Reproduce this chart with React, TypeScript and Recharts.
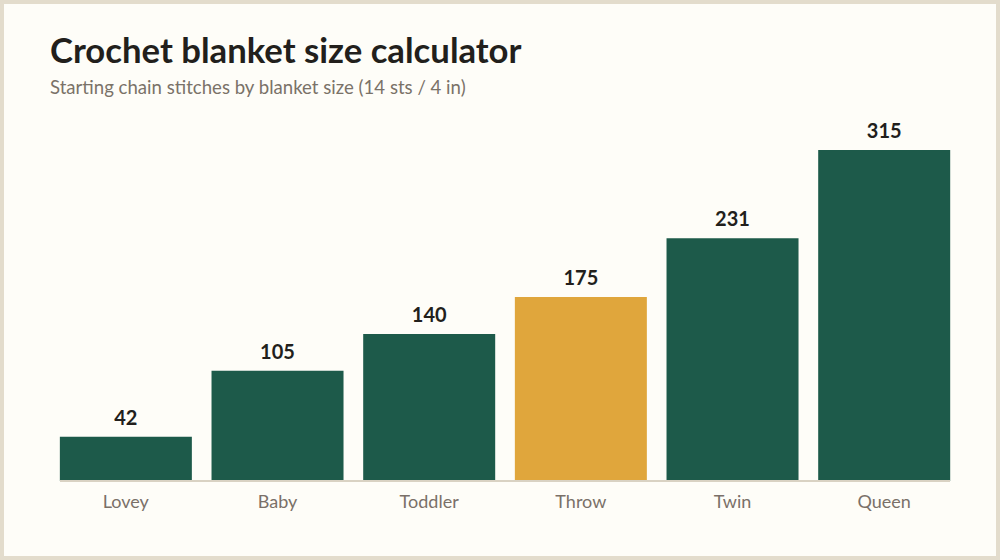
import { BarChart, Bar, XAxis, YAxis, Cell, LabelList } from 'recharts';

// Starting chain count per blanket size at a gauge of 14 sts / 4 in
const sizes = ['Lovey', 'Baby', 'Toddler', 'Throw', 'Twin', 'Queen'];
const chainStitches = [42, 105, 140, 175, 231, 315];
const highlightSize = 'Throw';

const data = sizes.map((size, i) => ({ size, stitches: chainStitches[i] }));

const GREEN = '#1D5A4A';
const GOLD = '#E0A63C';
const FONT = 'Lato, "Noto Sans", sans-serif';

const App = () => {
  return (
    <div
      style={{
        position: 'relative',
        width: 1000,
        height: 560,
        boxSizing: 'border-box',
        border: '4px solid #E3DCCC',
        background: '#FEFDF8',
        fontFamily: FONT,
        overflow: 'hidden',
      }}
    >
      <style>{'body { margin: 0; }'}</style>
      <div
        style={{
          position: 'absolute',
          left: 46,
          top: 29,
          fontSize: 34.7,
          lineHeight: 1,
          fontWeight: 700,
          color: '#221F1C',
        }}
      >
        Crochet blanket size calculator
      </div>
      <div
        style={{
          position: 'absolute',
          left: 46,
          top: 74,
          fontSize: 18.6,
          lineHeight: 1,
          color: '#7A7268',
        }}
      >
        Starting chain stitches by blanket size (14 sts / 4 in)
      </div>
      <div style={{ position: 'absolute', left: -4, top: -4 }}>
        <BarChart
          width={1000}
          height={560}
          data={data}
          margin={{ top: 150, right: 50, bottom: 49, left: 60 }}
          barCategoryGap="6.5%"
        >
          {/* negative padding lets the outer bars sit flush with the ends of the baseline */}
          <XAxis
            dataKey="size"
            height={30}
            padding={{ left: -10, right: -10 }}
            tickLine={false}
            tickMargin={8}
            axisLine={{ stroke: '#D9D2C3', strokeWidth: 2 }}
            tick={{ fill: '#7A7068', fontSize: 18, fontFamily: FONT }}
            interval={0}
          />
          <YAxis hide domain={[0, 315]} />
          <Bar dataKey="stitches" isAnimationActive={false}>
            {data.map((d) => (
              <Cell key={d.size} fill={d.size === highlightSize ? GOLD : GREEN} />
            ))}
            <LabelList
              dataKey="stitches"
              position="top"
              offset={12}
              fill="#221F1C"
              fontSize={20}
              fontWeight={700}
              fontFamily={FONT}
            />
          </Bar>
        </BarChart>
      </div>
    </div>
  );
};

export default App;
